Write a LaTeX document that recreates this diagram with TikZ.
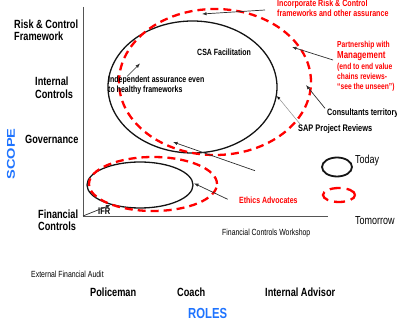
\documentclass[tikz,border=0pt]{standalone}
\usepackage{fontspec}
\setmainfont{Liberation Sans}
\usetikzlibrary{arrows.meta}
\definecolor{pptred}{RGB}{255,0,0}
\definecolor{roleblue}{RGB}{30,115,255}
\definecolor{axisgray}{RGB}{85,85,85}
\definecolor{arrgray}{RGB}{45,45,45}
\newcommand\setfs[1]{\fontsize{#1}{#1}\selectfont}

\begin{document}
\begin{tikzpicture}[x=1pt,y=-1pt,
  lbl/.style={inner sep=0pt, anchor=base west, yscale=1.29},
  axlbl/.style={lbl, font=\setfs{9.2}\bfseries},
  notelbl/.style={lbl, font=\setfs{7}\bfseries},
  rednotelbl/.style={notelbl, text=pptred},
  smalllbl/.style={lbl, font=\setfs{6.9}},
  legendlbl/.style={lbl, font=\setfs{9}},
  roleslbl/.style={lbl, font=\setfs{11.3}\bfseries, text=roleblue},
  nowline/.style={draw=black!92, line width=1.3pt},
  futureline/.style={draw=pptred, line width=2.3pt, dash pattern=on 8pt off 5pt},
  arr/.style={draw=arrgray, line width=0.7pt, -{Latex[length=4.5pt, width=3.4pt]}},
  sapArr/.style={draw=black!45, line width=0.5pt, -{Latex[length=3.5pt, width=3pt, color=black]}},
  axisline/.style={draw=axisgray, line width=0.9pt}
]
\useasboundingbox (0,0) rectangle (397,320);

% axes
\coordinate (axTop) at (83,7);
\coordinate (axO) at (83,216);
\coordinate (axEnd) at (328,216);
\draw[axisline] (axTop) -- (axO) -- (axEnd);

% scope levels
\node[axlbl] (rc1) at (14,28.3) {Risk \& Control};
\node[axlbl] (rc2) at (14,40.7) {Framework};
\node[axlbl] (ic1) at (35,85.7) {Internal};
\node[axlbl] (ic2) at (35,98.3) {Controls};
\node[axlbl] (gov) at (25,143.3) {Governance};
\node[axlbl] (fc1) at (38,218.3) {Financial};
\node[axlbl] (fc2) at (38,231) {Controls};
\node[roleslbl, anchor=base, rotate=90] (scope) at (15,154) {SCOPE};

% roles
\node[smalllbl] (efa) at (31,277.3) {External Financial Audit};
\node[axlbl] (pol) at (90,296.7) {Policeman};
\node[axlbl] (coach) at (177,296.7) {Coach};
\node[axlbl] (adv) at (265,296.7) {Internal Advisor};
\node[roleslbl] (roles) at (188,318.3) {ROLES};

% today / tomorrow regions
\draw[nowline] (192.5,87) ellipse [x radius=84.5pt, y radius=66pt];
\draw[nowline] (140,185) ellipse [x radius=53pt, y radius=23pt];
\draw[futureline] (215,82) ellipse [x radius=96pt, y radius=73pt];
\draw[futureline] (153,184) ellipse [x radius=64pt, y radius=27pt];

% legend
\draw[nowline, line width=1.8pt] (337,167) ellipse [x radius=15pt, y radius=9.5pt];
\draw[futureline, dash pattern=on 11pt off 6pt] (339,195) ellipse [x radius=16pt, y radius=7pt];
\node[legendlbl] (today) at (355,163.3) {Today};
\node[legendlbl] (tomorrow) at (355,225) {Tomorrow};

% activity labels
\node[notelbl] (csa) at (197,56) {CSA Facilitation};
\node[notelbl] (ind1) at (108,82.7) {Independent assurance even};
\node[notelbl] (ind2) at (108,92.7) {to healthy frameworks};
\node[notelbl, font=\setfs{7.4}\bfseries] (sap) at (298,131.7) {SAP Project Reviews};
\node[notelbl, font=\setfs{7.2}\bfseries] (con) at (327,115.7) {Consultants territory};
\node[notelbl, font=\setfs{7.5}\bfseries] (ifr) at (98,215) {IFR};
\node[smalllbl] (fcw) at (222,235.3) {Financial Controls Workshop};
\node[rednotelbl] (eth) at (239,203.3) {Ethics Advocates};
\node[rednotelbl, font=\setfs{7.1}\bfseries] (inc1) at (277,6.3) {Incorporate Risk \& Control};
\node[rednotelbl, font=\setfs{7.1}\bfseries] (inc2) at (277,16.7) {frameworks and other assurance};
\node[rednotelbl, font=\setfs{6.7}\bfseries] (pm1) at (337,47.7) {Partnership with};
\node[rednotelbl, font=\setfs{7.9}\bfseries] (pm2) at (337,59) {Management};
\node[rednotelbl, font=\setfs{6.7}\bfseries] (pm3) at (337,69.3) {(end to end value};
\node[rednotelbl, font=\setfs{6.7}\bfseries] (pm4) at (337,79.3) {chains reviews-};
\node[rednotelbl, font=\setfs{6.7}\bfseries] (pm5) at (337,89.3) {“see the unseen”)};

% arrow targets
\coordinate (incTip) at (202,14);
\coordinate (pmTip) at (292,47);
\coordinate (conTip) at (306,85);
\coordinate (sapTip) at (277,96);
\coordinate (indTip) at (140,63.5);
\coordinate (midFrom) at (255,170.7);
\coordinate (midTip) at (173,142);
\coordinate (ethTip) at (194,183.3);
\coordinate (ifrTip) at (110.5,205);

% connectors
\draw[arr] ([shift={(-12pt,-3.7pt)}]inc1.base west) -- (incTip);
\draw[arr] ([shift={(-4pt,-1pt)}]pm2.base west) -- (pmTip);
\draw[arr] ([shift={(-2pt,7.4pt)}]con.base west) -- (conTip);
\draw[sapArr] ([shift={(2pt,7.7pt)}]sap.base west) -- (sapTip);
\draw[arr] ([shift={(19pt,6.2pt)}]ind1.base west) -- (indTip);
\draw[arr] (midFrom) -- (midTip);
\draw[arr] ([shift={(-11.3pt,4pt)}]eth.base west) -- (ethTip);
\draw[arr] (axO) -- (ifrTip);
\end{tikzpicture}
\end{document}
